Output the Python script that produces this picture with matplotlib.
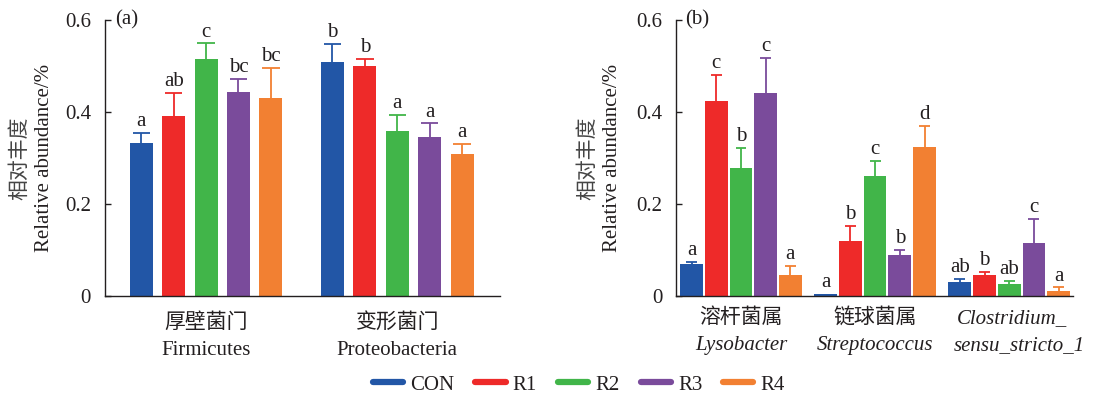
import numpy as np
import matplotlib.pyplot as plt
from matplotlib.lines import Line2D

plt.rcParams['font.family'] = ['Liberation Serif', 'Noto Sans CJK SC']
plt.rcParams['text.color'] = '#231f20'
plt.rcParams['axes.edgecolor'] = '#231f20'
plt.rcParams['xtick.color'] = '#231f20'
plt.rcParams['ytick.color'] = '#231f20'

treatments = ['CON', 'R1', 'R2', 'R3', 'R4']
colors = ['#2256a6', '#ee2a29', '#41b549', '#7a4b9b', '#f28032']

# phylum level
phyla_cn = ['厚壁菌门', '变形菌门']
phyla_en = ['Firmicutes', 'Proteobacteria']
fir_mean = [0.332, 0.391, 0.514, 0.443, 0.431]
fir_sd = [0.023, 0.051, 0.035, 0.029, 0.065]
fir_sig = ['a', 'ab', 'c', 'bc', 'bc']
pro_mean = [0.508, 0.500, 0.358, 0.346, 0.309]
pro_sd = [0.040, 0.016, 0.036, 0.029, 0.022]
pro_sig = ['b', 'b', 'a', 'a', 'a']

# genus level
genera_cn = ['溶杆菌属', '链球菌属']
genera_en = ['Lysobacter', 'Streptococcus']
lyso_mean = [0.070, 0.423, 0.278, 0.441, 0.045]
lyso_sd = [0.004, 0.058, 0.043, 0.076, 0.021]
lyso_sig = ['a', 'c', 'b', 'c', 'a']
strep_mean = [0.004, 0.120, 0.260, 0.090, 0.324]
strep_sd = [0.0, 0.033, 0.034, 0.010, 0.046]
strep_sig = ['a', 'b', 'c', 'b', 'd']
clos_mean = [0.030, 0.045, 0.026, 0.116, 0.012]
clos_sd = [0.008, 0.008, 0.007, 0.052, 0.007]
clos_sig = ['ab', 'b', 'ab', 'c', 'a']

fig = plt.figure(figsize=(11.05, 3.98), dpi=100)
ax_a = fig.add_axes([0.095, 0.256, 0.3575, 0.694])
ax_b = fig.add_axes([0.6118, 0.256, 0.3592, 0.694])


def draw_panel(ax, means, sds, sigs, gap, width, cap, xlim):
    centers = np.arange(len(means)) * gap
    offsets = np.arange(5) - 2
    for g, (m, s, sg) in enumerate(zip(means, sds, sigs)):
        for i in range(5):
            x = centers[g] + offsets[i]
            ax.bar(x, m[i], width=width, color=colors[i], linewidth=0, zorder=2)
            top = m[i] + s[i]
            if s[i] > 0:
                # upper error bar only
                ax.vlines(x, m[i], top, color=colors[i], lw=1.3, zorder=1)
                ax.hlines(top, x - cap, x + cap, color=colors[i], lw=1.3, zorder=1)
            ax.text(x, top + 0.004, sg[i], ha='center', va='bottom', fontsize=15)
    ax.set_xlim(*xlim)
    ax.set_ylim(0, 0.6)
    ax.set_yticks([0, 0.2, 0.4, 0.6])
    ax.set_yticklabels(['0', '0.2', '0.4', '0.6'], fontsize=15)
    ax.set_xticks(centers)
    ax.set_xticklabels([])
    ax.tick_params(axis='both', direction='in', length=4, width=1)
    ax.tick_params(axis='y', pad=10)
    for side in ['top', 'right']:
        ax.spines[side].set_visible(False)
    for side in ['left', 'bottom']:
        ax.spines[side].set_linewidth(1)
    return centers


ca = draw_panel(ax_a, [fir_mean, pro_mean], [fir_sd, pro_sd], [fir_sig, pro_sig],
                5.9, 0.71, 0.27, (-3.12, 9.07))
cb = draw_panel(ax_b, [lyso_mean, strep_mean, clos_mean], [lyso_sd, strep_sd, clos_sd],
                [lyso_sig, strep_sig, clos_sig], 5.43, 0.92, 0.22, (-2.63, 13.44))

# category labels, Chinese name above Latin name
tr_a = ax_a.get_xaxis_transform()
for x, cn, en in zip(ca, phyla_cn, phyla_en):
    ax_a.text(x, -0.098, cn, transform=tr_a, ha='center', va='center', fontsize=15)
    ax_a.text(x, -0.196, en, transform=tr_a, ha='center', va='center', fontsize=15)

tr_b = ax_b.get_xaxis_transform()
for x, cn, en in zip(cb[:2], genera_cn, genera_en):
    ax_b.text(x, -0.08, cn, transform=tr_b, ha='center', va='center', fontsize=15)
    ax_b.text(x, -0.18, en, transform=tr_b, ha='center', va='center', fontsize=15,
              style='italic')
ax_b.text(cb[2] + 0.1, -0.08, 'Clostridium_', transform=tr_b, ha='center', va='center',
          fontsize=15, style='italic')
ax_b.text(cb[2] + 0.4, -0.18, 'sensu_stricto_1', transform=tr_b, ha='center', va='center',
          fontsize=15, style='italic')

# y labels and panel tags
for ax, xc, xe, tag, xt in [(ax_a, -0.215, -0.152, '(a)', 0.056),
                            (ax_b, -0.222, -0.159, '(b)', 0.053)]:
    ax.text(xc, 0.5, '相对丰度', transform=ax.transAxes, rotation=90,
            ha='center', va='center', fontsize=15, color='#444444')
    ax.text(xe, 0.5, 'Relative abundance/%', transform=ax.transAxes, rotation=90,
            ha='center', va='center', fontsize=15)
    ax.text(xt, 1.0, tag, transform=ax.transAxes, ha='center', va='center', fontsize=15)

handles = [Line2D([0], [0], color=c, lw=4.5, solid_capstyle='round') for c in colors]
fig.legend(handles, treatments, loc='center', bbox_to_anchor=(0.524, 0.033), ncol=5,
           frameon=False, fontsize=15, handlelength=1.45, handletextpad=0.35,
           columnspacing=1.0)

fig.savefig('out.png', dpi=100)
